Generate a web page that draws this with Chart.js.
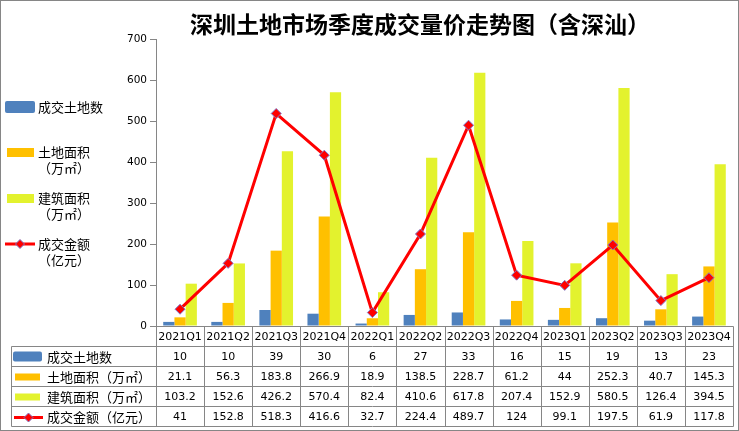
<!DOCTYPE html>
<html>
<head>
<meta charset="utf-8">
<script src="https://cdn.jsdelivr.net/npm/chart.js@4/dist/chart.umd.min.js"></script>
<style>
  body { margin: 0; background: #fff; }
</style>
</head>
<body>
<canvas id="grafico" width="739" height="431"></canvas>
<script>
// ---- DATA ----
const trimestres = ["2021Q1","2021Q2","2021Q3","2021Q4","2022Q1","2022Q2","2022Q3","2022Q4","2023Q1","2023Q2","2023Q3","2023Q4"];
const numTerrenos = [10, 10, 39, 30, 6, 27, 33, 16, 15, 19, 13, 23];
const areaTerreno = [21.1, 56.3, 183.8, 266.9, 18.9, 138.5, 228.7, 61.2, 44, 252.3, 40.7, 145.3];
const areaConstrucao = [103.2, 152.6, 426.2, 570.4, 82.4, 410.6, 617.8, 207.4, 152.9, 580.5, 126.4, 394.5];
const valorTotal = [41, 152.8, 518.3, 416.6, 32.7, 224.4, 489.7, 124, 99.1, 197.5, 61.9, 117.8];

const titulo = "深圳土地市场季度成交量价走势图（含深汕）";
const nomes = ["成交土地数", "土地面积（万㎡）", "建筑面积（万㎡）", "成交金额（亿元）"];

const AZUL = "#4F81BD";
const LARANJA = "#FFC000";
const AMARELO = "#E3F22E";
const VERMELHO = "#FF0000";
const CINZA = "#868686";
const CJK = '"Noto Sans CJK SC", sans-serif';
const NUM = '"DejaVu Sans", sans-serif';

function losango(ctx, x, y, r) {
  ctx.beginPath();
  ctx.moveTo(x, y - r);
  ctx.lineTo(x + r, y);
  ctx.lineTo(x, y + r);
  ctx.lineTo(x - r, y);
  ctx.closePath();
  ctx.fillStyle = VERMELHO;
  ctx.fill();
  ctx.strokeStyle = "#7F78C8";
  ctx.lineWidth = 1;
  ctx.stroke();
}

function amostra(ctx, tipo, x, y, w, h) {
  if (tipo === 3) {
    ctx.strokeStyle = VERMELHO;
    ctx.lineWidth = 3;
    ctx.beginPath();
    ctx.moveTo(x, y);
    ctx.lineTo(x + w, y);
    ctx.stroke();
    losango(ctx, x + w / 2, y, 4.5);
  } else if (tipo === 0) {
    ctx.fillStyle = AZUL;
    ctx.beginPath();
    ctx.roundRect(x, y, w, h, 2);
    ctx.fill();
  } else {
    ctx.fillStyle = [AZUL, LARANJA, AMARELO][tipo];
    ctx.fillRect(x, y, w, h);
  }
}

const desenhoExtra = {
  id: "desenhoExtra",
  beforeDraw(chart) {
    const ctx = chart.ctx;
    ctx.save();
    ctx.fillStyle = "#fff";
    ctx.fillRect(0, 0, chart.width, chart.height);
    ctx.restore();
  },
  afterDraw(chart) {
    const ctx = chart.ctx;
    const xs = chart.scales.x;
    const area = chart.chartArea;
    ctx.save();

    // ---- TITULO ----
    ctx.fillStyle = "#000";
    ctx.font = "bold 23px " + CJK;
    ctx.textAlign = "center";
    ctx.textBaseline = "middle";
    ctx.fillText(titulo, 420, 24);

    // ---- LEGENDA ESQUERDA ----
    ctx.font = "13px " + CJK;
    ctx.textAlign = "left";
    amostra(ctx, 0, 5, 101, 30, 12);
    ctx.fillStyle = "#000";
    ctx.fillText("成交土地数", 38, 107);
    amostra(ctx, 1, 7, 148, 27, 9);
    ctx.fillStyle = "#000";
    ctx.fillText("土地面积", 38, 152);
    ctx.fillText("（万㎡）", 38, 168);
    amostra(ctx, 2, 7, 194, 27, 9);
    ctx.fillStyle = "#000";
    ctx.fillText("建筑面积", 38, 198);
    ctx.fillText("（万㎡）", 38, 214);
    amostra(ctx, 3, 5, 244, 30, 0);
    ctx.fillStyle = "#000";
    ctx.fillText("成交金额", 38, 244);
    ctx.fillText("（亿元）", 38, 260);

    // ---- TABELA ----
    const topo = area.bottom + 0.5;
    const alturaLinha = 20;
    const esq = 11.5;
    const dir = area.right + 0.5;
    const colL = area.left + 0.5;
    const linhas = [numTerrenos, areaTerreno, areaConstrucao, valorTotal];
    const larg = (area.right - area.left) / trimestres.length;

    ctx.strokeStyle = CINZA;
    ctx.lineWidth = 1;
    ctx.beginPath();
    ctx.moveTo(colL, topo); ctx.lineTo(dir, topo);
    for (let i = 1; i <= 5; i++) {
      const y = topo + i * alturaLinha;
      ctx.moveTo(esq, y); ctx.lineTo(dir, y);
    }
    ctx.moveTo(esq, topo + alturaLinha); ctx.lineTo(esq, topo + 5 * alturaLinha);
    for (let j = 0; j <= trimestres.length; j++) {
      const x = Math.round(area.left + j * larg) + 0.5;
      ctx.moveTo(x, topo); ctx.lineTo(x, topo + 5 * alturaLinha);
    }
    ctx.stroke();

    ctx.fillStyle = "#000";
    ctx.textAlign = "center";
    ctx.font = "11px " + NUM;
    trimestres.forEach((t, j) => {
      ctx.fillText(t, xs.getPixelForValue(j), topo + alturaLinha / 2 + 1);
    });
    linhas.forEach((serie, i) => {
      const yc = topo + (i + 1) * alturaLinha + alturaLinha / 2 + 1;
      ctx.fillStyle = "#000";
      ctx.font = "11px " + NUM;
      ctx.textAlign = "center";
      serie.forEach((v, j) => {
        ctx.fillText(String(v), xs.getPixelForValue(j), yc);
      });
      if (i === 0) amostra(ctx, 0, 13, yc - 6, 29, 10);
      else if (i === 3) amostra(ctx, 3, 14, yc, 29, 0);
      else amostra(ctx, i, 15, yc - 4, 25, 7);
      ctx.fillStyle = "#000";
      ctx.font = "13px " + CJK;
      ctx.textAlign = "left";
      ctx.fillText(nomes[i], 47, yc);
    });

    // ---- MOLDURA ----
    ctx.strokeStyle = CINZA;
    ctx.lineWidth = 1;
    ctx.strokeRect(0.5, 0.5, chart.width - 1, chart.height - 1);
    ctx.restore();
  }
};

new Chart(document.getElementById("grafico"), {
  data: {
    labels: trimestres,
    datasets: [
      {
        type: "line",
        label: nomes[3],
        data: valorTotal,
        borderColor: VERMELHO,
        borderWidth: 3,
        pointStyle: "rectRot",
        pointRadius: 5,
        pointBackgroundColor: VERMELHO,
        pointBorderColor: "#7F78C8",
        pointBorderWidth: 1,
        tension: 0,
        fill: false,
        order: 0
      },
      {
        type: "bar",
        label: nomes[0],
        data: numTerrenos,
        backgroundColor: AZUL,
        categoryPercentage: 0.7,
        barPercentage: 1,
        order: 1
      },
      {
        type: "bar",
        label: nomes[1],
        data: areaTerreno,
        backgroundColor: LARANJA,
        categoryPercentage: 0.7,
        barPercentage: 1,
        order: 2
      },
      {
        type: "bar",
        label: nomes[2],
        data: areaConstrucao,
        backgroundColor: AMARELO,
        categoryPercentage: 0.7,
        barPercentage: 1,
        order: 3
      }
    ]
  },
  options: {
    responsive: false,
    animation: false,
    devicePixelRatio: 1,
    layout: { padding: { top: 39, right: 2, bottom: 105, left: 0 } },
    plugins: {
      legend: { display: false },
      title: { display: false },
      tooltip: { enabled: false }
    },
    scales: {
      x: {
        display: false,
        offset: true
      },
      y: {
        min: 0,
        max: 700,
        ticks: {
          stepSize: 100,
          color: "#000",
          padding: 3,
          font: { family: "DejaVu Sans", size: 10.5 }
        },
        grid: {
          drawOnChartArea: false,
          drawTicks: true,
          tickLength: 6,
          color: CINZA
        },
        border: { color: CINZA, width: 1 },
        afterFit(scale) { scale.width = 156; }
      }
    }
  },
  plugins: [desenhoExtra]
});
</script>
</body>
</html>
